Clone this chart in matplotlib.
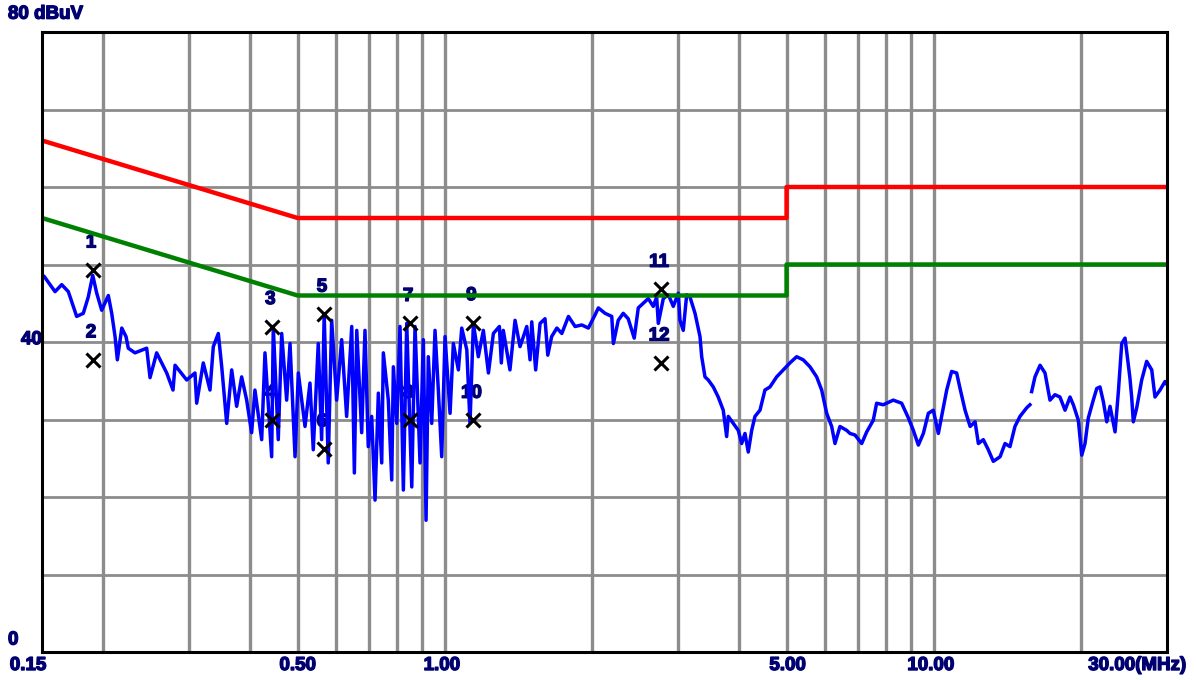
# Conducted emission scan, 0.15 - 30 MHz
import numpy as np
import matplotlib.pyplot as plt
import matplotlib.patheffects as pe

freq = [0.15, 0.1514, 0.1595, 0.1646, 0.1698, 0.1766, 0.1822, 0.1865, 0.1905, 0.1941,
        0.1987, 0.205, 0.2083, 0.2116, 0.2139, 0.2184, 0.2228, 0.2252, 0.2324, 0.2456,
        0.2495, 0.2574, 0.2699, 0.278, 0.2807, 0.2965, 0.3083, 0.3108, 0.3206, 0.3309,
        0.3361, 0.3441, 0.3497, 0.358, 0.3665, 0.3752, 0.3841, 0.3933, 0.4026, 0.4089,
        0.4221, 0.4287, 0.4424, 0.4458, 0.4564, 0.4638, 0.4748, 0.4824, 0.4939, 0.5016,
        0.5177, 0.5299, 0.5382, 0.551, 0.5598, 0.5666, 0.5775, 0.5869, 0.6008, 0.6152,
        0.6298, 0.6451, 0.6531, 0.6605, 0.676, 0.6866, 0.6973, 0.7086, 0.7199, 0.7312,
        0.7429, 0.7486, 0.7664, 0.7788, 0.7848, 0.7974, 0.8098, 0.8226, 0.8358, 0.8558,
        0.8691, 0.8898, 0.9038, 0.9154, 0.9252, 0.9402, 0.9549, 0.9699, 0.9855, 1.001,
        1.025, 1.041, 1.066, 1.083, 1.109, 1.126, 1.144, 1.171, 1.199, 1.228,
        1.257, 1.293, 1.305, 1.317, 1.359, 1.392, 1.425, 1.471, 1.494, 1.506,
        1.534, 1.566, 1.603, 1.624, 1.654, 1.695, 1.735, 1.790, 1.847, 1.906,
        1.966, 2.029, 2.061, 2.127, 2.195, 2.212, 2.263, 2.317, 2.372, 2.44,
        2.487, 2.547, 2.607, 2.669, 2.712, 2.733, 2.798, 2.865, 2.933, 3.003,
        3.027, 3.074, 3.124, 3.173, 3.249, 3.326, 3.353, 3.405, 3.458, 3.541,
        3.624, 3.711, 3.771, 3.8, 3.89, 3.983, 4.047, 4.111, 4.175, 4.243,
        4.309, 4.412, 4.516, 4.624, 4.772, 4.923, 5.08, 5.243, 5.409, 5.583,
        5.762, 5.899, 6.04, 6.184, 6.281, 6.43, 6.636, 6.741, 6.902, 7.123,
        7.293, 7.522, 7.642, 7.884, 8.264, 8.598, 8.874, 9.085, 9.301, 9.523,
        9.749, 9.98, 10.22, 10.38, 10.63, 10.88, 11.14, 11.32, 11.59, 11.87,
        12.15, 12.34, 12.63, 12.93, 13.24, 13.67, 13.99, 14.32, 14.66, 15.01,
        15.49, 15.73, 15.80, 15.86, 16.11, 16.5, 16.89, 17.29, 17.7, 18.12,
        18.56, 19.0, 19.3, 19.76, 20.08, 20.39, 20.71, 21.2, 21.55, 21.88,
        22.23, 22.59, 22.94, 23.49, 23.86, 24.24, 24.62, 25.2, 25.4, 25.6,
        26.01, 26.63, 27.26, 27.92, 28.35, 29.03, 29.72, 30.0]
level = [48.3, 48.5, 46.5, 47.4, 46.5, 43.3, 43.7, 45.8, 48.6, 46.3,
         44.1, 46.0, 43.7, 40.7, 37.7, 41.8, 40.7, 39.2, 38.6, 39.2,
         35.4, 38.6, 36.0, 33.8, 37.0, 35.1, 36.0, 32.1, 37.3, 33.8,
         39.4, 41.1, 36.8, 29.5, 36.4, 31.7, 35.5, 32.5, 28.3, 33.8,
         27.4, 38.6, 25.2, 42.0, 27.4, 41.1, 32.5, 39.8, 25.2, 36.0,
         29.1, 34.7, 26.1, 39.8, 27.4, 43.5, 24.4, 42.8, 32.5, 40.3,
         30.4, 42.0, 23.1, 41.5, 28.3, 41.5, 26.5, 30.4, 19.6, 33.4,
         24.4, 38.6, 32.5, 22.2, 36.8, 29.5, 42.0, 20.9, 42.4, 21.3,
         42.0, 24.4, 40.3, 17.0, 38.1, 29.5, 41.5, 33.8, 25.2, 40.7,
         30.8, 39.8, 36.4, 41.8, 39.0, 29.5, 42.4, 38.1, 41.5, 36.0,
         41.1, 42.0, 37.3, 41.5, 36.4, 42.8, 39.4, 42.0, 37.7, 42.6,
         36.4, 42.4, 43.0, 38.3, 40.7, 41.8, 41.1, 43.3, 42.0, 42.2,
         41.8, 43.5, 44.4, 43.7, 43.3, 39.8, 42.8, 43.7, 43.0, 40.5,
         44.4, 45.0, 45.6, 44.6, 45.8, 42.4, 45.6, 46.1, 44.6, 46.3,
         42.8, 41.5, 46.1, 45.8, 43.7, 40.7, 38.1, 35.5, 35.1, 34.2,
         32.9, 31.2, 27.8, 30.4, 29.5, 28.6, 26.9, 28.2, 25.8, 28.6,
         30.4, 31.2, 33.8, 34.2, 35.5, 36.4, 37.3, 38.1, 37.7, 36.8,
         35.5, 33.8, 30.8, 29.1, 26.9, 29.1, 28.6, 28.2, 28.0, 26.9,
         28.4, 29.9, 32.1, 31.9, 32.5, 32.1, 30.2, 28.6, 26.7, 28.2,
         30.8, 31.2, 28.2, 30.4, 33.8, 36.2, 36.0, 34.0, 31.2, 29.1,
         29.7, 26.9, 27.4, 26.1, 24.6, 25.2, 26.9, 26.5, 29.1, 30.4,
         31.5, 31.9, np.nan, 33.6, 35.5, 37.0, 36.0, 32.5, 33.2, 32.9,
         31.2, 32.9, 31.9, 29.9, 25.4, 26.9, 30.2, 32.5, 34.0, 34.2,
         32.3, 29.7, 31.7, 28.4, 33.6, 39.8, 40.5, 35.3, 32.9, 29.7,
         31.5, 35.1, 37.5, 36.4, 32.9, 33.8, 34.9, 34.5]

# limit lines
limit_f = [0.15, 0.5, 5.0, 5.0, 30.0]
qp_limit = [66, 56, 56, 60, 60]
av_limit = [56, 46, 46, 50, 50]

# marked readings
mark_f = [0.1907, 0.1907, 0.4437, 0.4437, 0.5659, 0.5659,
          0.849, 0.849, 1.144, 1.144, 2.768, 2.768]
mark_db = [49.3, 37.7, 42.0, 29.9, 43.6, 26.2,
           42.4, 29.9, 42.5, 29.9, 46.8, 37.3]
mark_no = ['1', '2', '3', '4', '5', '6', '7', '8', '9', '10', '11', '12']

grid_f = [0.2, 0.3, 0.4, 0.5, 0.6, 0.7, 0.8, 0.9, 1, 2, 3, 4, 5, 6, 7, 8, 9, 10, 20]
xlab_f = [0.15, 0.5, 1.0, 5.0, 10.0, 30.0]
xlab = ['0.15', '0.50', '1.00', '5.00', '10.00', '30.00(MHz)']
xlab_dx = [-14, 0, -3, 1, -3, -30]

navy = '#000070'
plt.rcParams['font.family'] = ['Liberation Sans', 'DejaVu Sans']
heavy = [pe.withStroke(linewidth=1.0, foreground=navy)]
txt = dict(color=navy, fontsize=13.5, fontweight='bold', path_effects=heavy)

fig = plt.figure(figsize=(11.96, 6.8), dpi=100)
ax = fig.add_axes([42/1196, 28/680, 1125/1196, 620/680])

ax.set_xscale('log')
ax.set_xlim(0.15, 30)
ax.set_ylim(0, 80)

ax.set_xticks(grid_f)
ax.set_xticks([], minor=True)
ax.set_yticks(np.arange(10, 80, 10))
ax.tick_params(length=0, labelbottom=False, labelleft=False)
ax.grid(True, axis='x', color='#8c8c8c', linewidth=2.4)
ax.grid(True, axis='y', color='#8c8c8c', linewidth=2.0)
for s in ax.spines.values():
    s.set_linewidth(2.2)
    s.set_color('black')
    s.set_zorder(10)

ax.plot(freq, level, color='#0000ff', linewidth=2.5, zorder=3)
ax.plot(limit_f, qp_limit, color='#ff0000', linewidth=3.2, zorder=4)
ax.plot(limit_f, av_limit, color='#008000', linewidth=3.2, zorder=4)

ax.plot(mark_f, mark_db, linestyle='', marker='x', color='black',
        markersize=10, markeredgewidth=2.2, zorder=5)
for f, d, n in zip(mark_f, mark_db, mark_no):
    ax.annotate(n, xy=(f, d), xytext=(-2, 27), textcoords='offset pixels',
                ha='center', va='center', zorder=2, **txt)

for f, t, dx in zip(xlab_f, xlab, xlab_dx):
    ax.annotate(t, xy=(f, 0), xycoords=('data', 'axes fraction'),
                xytext=(dx, -5), textcoords='offset pixels',
                ha='center', va='top', annotation_clip=False, **txt)

ax.text(-34/1125, 1.55, '0', transform=ax.get_yaxis_transform(),
        ha='left', va='center', **txt)
ax.text(-21/1125, 40.3, '40', transform=ax.get_yaxis_transform(),
        ha='left', va='center', **txt)
ax.text(-34/1125, 82.3, '80 dBuV', transform=ax.get_yaxis_transform(),
        ha='left', va='center', **txt)

fig.savefig('out.png', dpi=100, facecolor='white')
